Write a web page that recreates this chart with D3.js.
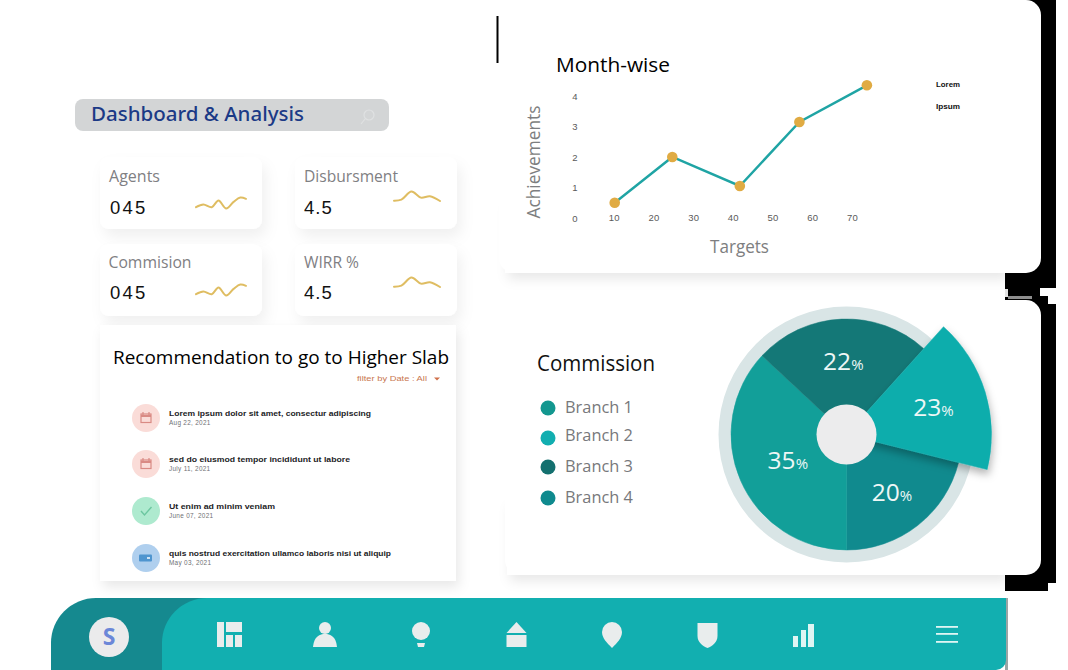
<!DOCTYPE html>
<html><head><meta charset="utf-8">
<script src="https://cdn.jsdelivr.net/npm/d3@7/dist/d3.min.js"></script>
<style>html,body{margin:0;padding:0;background:#fff;overflow:hidden}svg{display:block}</style>
</head><body><svg id="c" width="1068" height="670"></svg>
<script>
// ---- data ----
const lineTargets = [10, 24.5, 41.5, 56.5, 73.5];
const lineAchievements = [0.5, 2, 1.05, 3.15, 4.35];
const xTickValues = [10, 20, 30, 40, 50, 60, 70];
const yTickValues = [0, 1, 2, 3, 4];
const legendLine = ["Lorem", "Ipsum"];
const pieNames = ["Branch 2", "Branch 4", "Branch 1", "Branch 3"];
const piePercent = [23, 20, 35, 22];
// the slices in the picture are not drawn to their labels: these are the sweeps read off it
const pieSweepDeg = [62, 76, 133, 89];
const legendBranches = ["Branch 1", "Branch 2", "Branch 3", "Branch 4"];
const kpiNames = ["Agents", "Disbursment", "Commision", "WIRR %"];
const kpiValues = ["045", "4.5", "045", "4.5"];
const sparkAX = [0, 22, 47, 67, 90, 112, 132, 149];
const sparkAY = [4, 12, 4, 24, 0, 20, 33, 29];
const sparkBX = [0, 22, 52, 80, 107, 137];
const sparkBY = [1, 4, 28, 10, 14, 0];
const listTitles = ["Lorem ipsum dolor sit amet, consectur adipiscing", "sed do eiusmod tempor incididunt ut labore", "Ut enim ad minim veniam", "quis nostrud exercitation ullamco laboris nisi ut aliquip"];
const listDates = ["Aug 22, 2021", "July 11, 2021", "June 07, 2021", "May 03, 2021"];

const svg = d3.select("#c");
const defs = svg.append("defs");
function shadow(id, dx, dy, sd, op) {
  const f = defs.append("filter").attr("id", id).attr("x", "-30%").attr("y", "-30%").attr("width", "160%").attr("height", "170%");
  f.append("feDropShadow").attr("dx", dx).attr("dy", dy).attr("stdDeviation", sd).attr("flood-color", "#000").attr("flood-opacity", op);
}
shadow("soft", 4, 8, 7, 0.06);
shadow("big", 3, 6, 6, 0.09);
shadow("slice", 1, 5, 4, 0.30);

function txt(g, s, x, y, o) {
  const t = g.append("text").attr("x", x).attr("y", y).text(s)
    .attr("font-family", o.ff || "'Open Sans'").attr("font-size", o.fs).attr("fill", o.c || "#000");
  if (o.fw) t.attr("font-weight", o.fw);
  if (o.a) t.attr("text-anchor", o.a);
  if (o.len) t.attr("textLength", o.len).attr("lengthAdjust", "spacingAndGlyphs");
  if (o.ls) t.attr("letter-spacing", o.ls);
  return t;
}

// ---- black transparent-leftover shape behind the right cards ----
const back = svg.append("g").attr("fill", "#000");
[[1020,0,36,288],[1005,273,51,15],[1005,288,35,12],[1040,296,8,8],[1020,300,28,4],[1020,304,36,279],[1005,560,43,31],[1005,575,51,8]].forEach(r =>
  back.append("rect").attr("x", r[0]).attr("y", r[1]).attr("width", r[2]).attr("height", r[3]));
svg.append("rect").attr("x", 1005).attr("y", 289).attr("width", 3).attr("height", 8).attr("fill", "#e4e4e4");
svg.append("rect").attr("x", 1008).attr("y", 296).attr("width", 24).attr("height", 3).attr("fill", "#8e8e8e");
svg.append("rect").attr("x", 496.5).attr("y", 16).attr("width", 2).attr("height", 47).attr("fill", "#000");

// ---- right cards ----
svg.append("rect").attr("x", 505).attr("y", 200).attr("width", 500).attr("height", 73).attr("fill", "#fff").attr("filter", "url(#big)");
svg.append("rect").attr("x", 499).attr("y", 0).attr("width", 542).attr("height", 273).attr("rx", 15).attr("fill", "#fff");
svg.append("rect").attr("x", 507).attr("y", 500).attr("width", 498).attr("height", 75).attr("fill", "#fff").attr("filter", "url(#big)");
svg.append("rect").attr("x", 505).attr("y", 300).attr("width", 536).attr("height", 275).attr("rx", 15).attr("fill", "#fff");

// ---- search bar ----
svg.append("rect").attr("x", 75).attr("y", 99).attr("width", 314).attr("height", 32).attr("rx", 8).attr("fill", "#d3d5d6");
txt(svg, "Dashboard & Analysis", 91, 121, {fs: 19, fw: 500, c: "#1b3a86", ff: "'Noto Sans'", len: 213});
const mag = svg.append("g").attr("fill", "none").attr("stroke", "#dfe1e2").attr("stroke-width", 1.2);
mag.append("circle").attr("cx", 369).attr("cy", 115).attr("r", 5);
mag.append("line").attr("x1", 365).attr("y1", 119).attr("x2", 361).attr("y2", 124);

// ---- KPI cards ----
const kpiX = [100, 295, 100, 295], kpiY = [157, 157, 244, 244];
const kpiLen = [51, 94, 83, 55];
kpiNames.forEach((n, i) => {
  const g = svg.append("g").attr("transform", `translate(${kpiX[i]},${kpiY[i]})`);
  g.append("rect").attr("width", 162).attr("height", 72).attr("rx", 9).attr("fill", "#fff").attr("filter", "url(#soft)");
  txt(g, n, i === 2 ? 8.5 : 9, i < 2 ? 25 : 24, {fs: 16, c: "#7f8083", len: kpiLen[i]});
  txt(g, kpiValues[i], i % 2 ? 9 : 10, i < 2 ? 57 : 55, {fs: 18.5, c: "#111", ff: "'Liberation Sans'", ls: i % 2 ? 1 : 2.2});
  const A = i % 2 === 0;
  const xs = A ? sparkAX : sparkBX, ys = A ? sparkAY : sparkBY;
  const sx = d3.scaleLinear().domain([0, d3.max(xs)]).range(A ? [96, 146] : [99, 145]);
  const sy = d3.scaleLinear().domain([0, d3.max(ys)]).range(A ? [51.5, 40.5] : (i < 2 ? [44, 34.5] : [43, 33.5]));
  g.append("path").attr("d", d3.line().x((d, k) => sx(xs[k])).y(d => sy(d)).curve(d3.curveCatmullRom)(ys))
    .attr("fill", "none").attr("stroke", "#dfbd62").attr("stroke-width", 2).attr("stroke-linecap", "round");
});

// ---- recommendation list ----
svg.append("rect").attr("x", 100).attr("y", 325).attr("width", 356).attr("height", 256).attr("fill", "#fff").attr("filter", "url(#big)");
txt(svg, "Recommendation to go to Higher Slab", 113, 364, {fs: 19, c: "#000", len: 336});
txt(svg, "filter by Date : All", 357, 381, {fs: 8, c: "#c9774f", ff: "'Liberation Sans'", len: 70});
svg.append("path").attr("d", "M-3-1.5H3L0 1.5Z").attr("transform", "translate(437,379)").attr("fill", "#d0704a");
const circleY = [418, 464, 511, 558];
const circleC = ["#fadcd8", "#fadcd8", "#aeeacf", "#afcfee"];
const iconC = ["#d98a84", "#d98a84", "#6cc7a0", "#4f95cf"];
const titleLen = [202, 181, 106, 222];
listTitles.forEach((t, i) => {
  const y = circleY[i];
  svg.append("circle").attr("cx", 146).attr("cy", y).attr("r", 14).attr("fill", circleC[i]);
  const ic = svg.append("g").attr("transform", `translate(146,${y})`).attr("fill", "none").attr("stroke", iconC[i]).attr("stroke-width", 1.2);
  if (i < 2) {
    ic.append("rect").attr("x", -5).attr("y", -4).attr("width", 10).attr("height", 8.5);
    ic.append("line").attr("x1", -5).attr("x2", 5).attr("y1", -2).attr("y2", -2).attr("stroke-width", 2);
    ic.append("path").attr("d", "M-3-6V-3M3-6V-3");
  } else if (i === 2) {
    ic.append("path").attr("d", "M-5 0L-1.5 4L5.5-4").attr("stroke-width", 1.4);
  } else {
    ic.append("rect").attr("x", -7).attr("y", -3.5).attr("width", 13).attr("height", 7).attr("rx", 1).attr("fill", iconC[i]).attr("stroke", "none");
    ic.append("rect").attr("x", 1).attr("y", -1).attr("width", 3).attr("height", 2).attr("fill", "#cfe3f5").attr("stroke", "none");
  }
  txt(svg, t, 169, y - 2, {fs: 7.6, fw: 700, c: "#1d1d1f", ff: "'Liberation Sans'", len: titleLen[i]});
  txt(svg, listDates[i], 169, y + 7, {fs: 6.4, c: "#6f7073", ff: "'Liberation Sans'", ls: 0.3});
});

// ---- Month-wise line chart ----
const x = d3.scaleLinear().domain([0, 70]).range([575, 853]);
const y = d3.scaleLinear().domain([0, 4]).range([218, 96]);
txt(svg, "Month-wise", 556, 72, {fs: 20.5, c: "#000", len: 114});
const axisStyle = g => {
  g.select(".domain").remove();
  g.selectAll("line").remove();
  g.selectAll("text").attr("font-family", "'Liberation Sans'").attr("font-size", 9.5).attr("fill", "#5a5a5a").attr("letter-spacing", 0.2);
};
svg.append("g").attr("transform", "translate(575,0)").call(d3.axisLeft(y).tickValues(yTickValues).tickSize(0).tickPadding(0).tickFormat(d3.format("d")))
  .call(axisStyle).selectAll("text").attr("text-anchor", "middle").attr("x", 0).attr("dy", 3);
svg.append("g").attr("transform", "translate(-1,218)").call(d3.axisBottom(x).tickValues(xTickValues).tickSize(0).tickPadding(0).tickFormat(d3.format("d")))
  .call(axisStyle).selectAll("text").attr("y", 0).attr("dy", 3);
const pts = lineTargets.map((t, i) => [t, lineAchievements[i]]);
svg.append("path").attr("d", d3.line().x(d => x(d[0])).y(d => y(d[1]))(pts)).attr("fill", "none").attr("stroke", "#1fa4a4").attr("stroke-width", 2.4);
svg.selectAll("circle.pt").data(pts).enter().append("circle").attr("class", "pt")
  .attr("cx", d => x(d[0])).attr("cy", d => y(d[1])).attr("r", 5.3).attr("fill", "#e0ab43");
txt(svg, "Targets", 739.5, 253, {fs: 17.5, c: "#7d7e80", a: "middle", len: 59});
txt(svg, "Achievements", 0, 0, {fs: 17.5, c: "#7d7e80", a: "middle", len: 113}).attr("transform", "translate(540,162) rotate(-90)");
legendLine.forEach((l, i) => txt(svg, l, 936, 87 + i * 22, {fs: 7.6, fw: 700, c: "#111", ff: "'Liberation Sans'", len: 24}));

// ---- Commission ----
txt(svg, "Commission", 537, 371, {fs: 21, c: "#111", len: 118});
const legendC = ["#13978f", "#12aeb0", "#14706f", "#0f8a8e"];
const legendY = [408, 438, 467, 498];
const legendTextY = [413, 441, 472, 503];
legendBranches.forEach((b, i) => {
  svg.append("circle").attr("cx", 548).attr("cy", legendY[i]).attr("r", 7.5).attr("fill", legendC[i]);
  txt(svg, b, 565, legendTextY[i], {fs: 17, c: "#77787b", len: 68});
});

const pieC = ["#10adac", "#108a8e", "#129f99", "#147877"];
const pieOuter = [145, 115.5, 115.5, 115.5];
const labelR = [91, 74, 64, 73];
const pie = d3.pie().sort(null).startAngle(42 * Math.PI / 180).endAngle(402 * Math.PI / 180).value(d => d);
const arcs = pie(pieSweepDeg);
const P = svg.append("g").attr("transform", "translate(846.5,434.5)");
P.append("path").attr("d", d3.arc().innerRadius(115).outerRadius(128).startAngle(0).endAngle(2 * Math.PI)()).attr("fill", "#d9e5e6");
const order = [1, 2, 3, 0];
order.forEach(i => {
  P.append("path").attr("d", d3.arc().innerRadius(0).outerRadius(pieOuter[i])(arcs[i])).attr("fill", pieC[i])
    .attr("stroke", pieC[i]).attr("stroke-width", 0.5)
    .attr("filter", i === 0 ? "url(#slice)" : null);
});
P.append("circle").attr("r", 30).attr("fill", "#ececed");
arcs.forEach((a, i) => {
  const c = d3.arc().innerRadius(labelR[i]).outerRadius(labelR[i]).centroid(a);
  const t = P.append("text").attr("x", c[0]).attr("y", c[1] + 8.5).attr("text-anchor", "middle").attr("fill", "#eef7f6").attr("font-family", "'Open Sans'");
  t.append("tspan").attr("font-size", 24.5).text(piePercent[i]);
  t.append("tspan").attr("font-size", 15).text("%");
});

// ---- bottom nav ----
svg.append("rect").attr("x", 1005).attr("y", 598).attr("width", 3).attr("height", 72).attr("fill", "#9aa5a5");
svg.append("path").attr("d", "M51 670V643A45 45 0 0 1 96 598H300V670Z").attr("fill", "#15898f");
svg.append("path").attr("d", "M162 670V643A45 45 0 0 1 207 598H1006V660A10 10 0 0 1 996 670Z").attr("fill", "#12afb0");
svg.append("circle").attr("cx", 109).attr("cy", 637).attr("r", 20).attr("fill", "#ebebec");
txt(svg, "S", 109, 645, {fs: 23, fw: 700, c: "#6b87d8", a: "middle", ff: "'Open Sans'"});
const ink = "#e9eded";
const nav = (cx, cy) => svg.append("g").attr("transform", `translate(${cx},${cy})`).attr("fill", ink);
let n = nav(229, 635);
[[-12,-13,7,25],[-3,-13,16,10],[-3,0,7,12],[6,0,7,12]].forEach(r => n.append("rect").attr("x", r[0]).attr("y", r[1]).attr("width", r[2]).attr("height", r[3]));
n = nav(325, 635);
n.append("circle").attr("cy", -7).attr("r", 6);
n.append("path").attr("d", "M-12 12C-11 1-5-1 0-1S11 1 12 12Z");
n = nav(421, 635);
n.append("circle").attr("cy", -4).attr("r", 9);
n.append("path").attr("d", "M-4 8H4L3 12H-3Z");
n = nav(516.5, 635);
n.append("path").attr("d", "M0-13L10-2H-10Z");
n.append("rect").attr("x", -10).attr("y", 0).attr("width", 20).attr("height", 12);
n = nav(612, 635);
n.append("path").attr("d", "M0 13C-5 8-10 3-10-3A10 10 0 0 1 10-3C10 3 5 8 0 13Z");
n = nav(707.5, 635);
n.append("path").attr("d", "M-10-12H10V1C10 7 5 11 0 13C-5 11-10 7-10 1Z");
n = nav(803, 635);
[[-10,1,5,11],[-2,-5,5,17],[5,-11,6,23]].forEach(r => n.append("rect").attr("x", r[0]).attr("y", r[1]).attr("width", r[2]).attr("height", r[3]).attr("fill", "#dff5f3"));
n = nav(947, 634);
[-8, -1, 7].forEach(v => n.append("rect").attr("x", -11).attr("y", v).attr("width", 22).attr("height", 1.8).attr("fill", "#dff5f3"));
</script></body></html>
